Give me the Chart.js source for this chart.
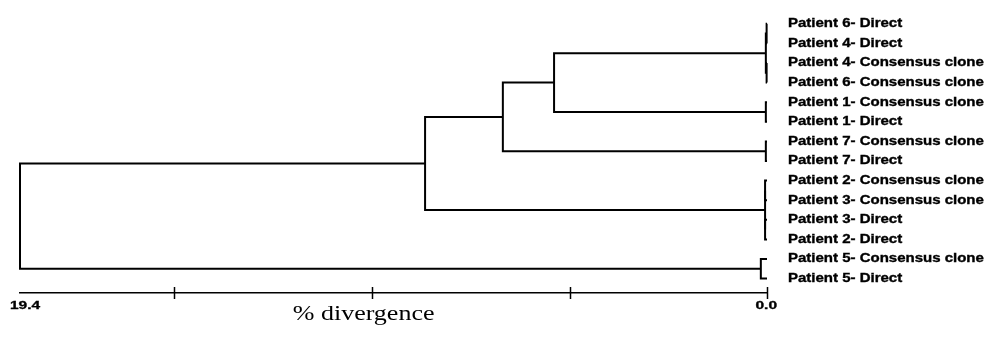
<!DOCTYPE html>
<html>
<head>
<meta charset="utf-8">
<script src="https://cdn.jsdelivr.net/npm/chart.js@4/dist/chart.umd.min.js"></script>
<style>
  html, body { margin: 0; padding: 0; background: #fff; }
  #wrap { width: 994px; height: 342px; position: relative; }
</style>
</head>
<body>
<div id="wrap"><canvas id="tree"></canvas></div>
<script>
// Leaf sequences, top to bottom
const leafNames = [
  'Patient 6- Direct',
  'Patient 4- Direct',
  'Patient 4- Consensus clone',
  'Patient 6- Consensus clone',
  'Patient 1- Consensus clone',
  'Patient 1- Direct',
  'Patient 7- Consensus clone',
  'Patient 7- Direct',
  'Patient 2- Consensus clone',
  'Patient 3- Consensus clone',
  'Patient 3- Direct',
  'Patient 2- Direct',
  'Patient 5- Consensus clone',
  'Patient 5- Direct'
];

// Linkage: merge k creates cluster id 14 + k from two existing ids
const mergeLeft   = [0, 2, 14, 4, 6, 8, 10, 19, 12, 16, 23, 24, 25];
const mergeRight  = [1, 3, 15, 5, 7, 9, 11, 20, 13, 17, 18, 21, 22];
// % divergence at which each merge happens
const mergeHeight = [0.01, 0.01, 0.03, 0.03, 0.03, 0.05, 0.05, 0.05, 0.16, 5.53, 6.86, 8.88, 19.4];

// Scale bar
const scaleMax    = 19.4;
const tickMarks   = [0, 5.12, 10.25, 15.4];
const labelValues = [0, 19.4];
const labelTexts  = ['0.0', '19.4'];
const axisTitle   = '% divergence';

// Build one polyline per merge: left child arm, vertical join, right child arm
const nodeX = [], nodeY = [];
leafNames.forEach((_, i) => { nodeX[i] = 0; nodeY[i] = i; });
const datasets = mergeLeft.map((l, k) => {
  const r = mergeRight[k], h = mergeHeight[k], id = leafNames.length + k;
  nodeX[id] = h;
  nodeY[id] = (nodeY[l] + nodeY[r]) / 2;
  return {
    data: [
      { x: nodeX[l], y: nodeY[l] },
      { x: h, y: nodeY[l] },
      { x: h, y: nodeY[r] },
      { x: nodeX[r], y: nodeY[r] }
    ],
    showLine: true,
    borderColor: '#000',
    borderWidth: 2,
    pointRadius: 0,
    pointHoverRadius: 0,
    tension: 0,
    fill: false,
    clip: false
  };
});

// Text drawn with a horizontal stretch (wide printed lettering)
function wideText(ctx, text, x, y, font, stretch, align, heavy) {
  ctx.save();
  ctx.font = font;
  ctx.fillStyle = '#000';
  ctx.strokeStyle = '#000';
  ctx.textBaseline = 'middle';
  ctx.textAlign = align;
  ctx.translate(x, y);
  ctx.scale(stretch, 1);
  ctx.fillText(text, 0, 0);
  if (heavy) {
    ctx.lineWidth = heavy;
    ctx.strokeText(text, 0, 0);
  }
  ctx.restore();
}

// Scale bar marks, scale bar labels, axis title and leaf names
const treeDecor = {
  id: 'treeDecor',
  afterDraw(chart) {
    const xs = chart.scales.x, ys = chart.scales.y, ctx = chart.ctx;
    const area = chart.chartArea, y0 = xs.top;
    ctx.save();
    ctx.strokeStyle = '#000';
    ctx.lineWidth = 1.5;
    tickMarks.forEach(v => {
      const px = Math.round(xs.getPixelForValue(v)) + 0.5;
      ctx.beginPath();
      ctx.moveTo(px, y0 - 6);
      ctx.lineTo(px, y0 + 6);
      ctx.stroke();
    });
    ctx.restore();

    // end labels sit just inside the bar ends
    labelValues.forEach((v, i) => {
      const px = xs.getPixelForValue(v);
      const atLeft = px < (area.left + area.right) / 2;
      wideText(ctx, labelTexts[i], atLeft ? px - 10 : px + 10, y0 + 13,
        'bold 10px "Liberation Sans", Arial, sans-serif', 1.55,
        atLeft ? 'left' : 'right', 0.3);
    });

    wideText(ctx, axisTitle, area.left + (area.right - area.left) * 0.46, y0 + 22,
      '20px "Liberation Serif", "Times New Roman", serif', 1.3, 'center');

    leafNames.forEach((name, i) => {
      wideText(ctx, name, area.right + 21, ys.getPixelForValue(i),
        'bold 12px "Liberation Sans", Arial, sans-serif', 1.25, 'left', 0.35);
    });
  }
};

new Chart(document.getElementById('tree'), {
  type: 'scatter',
  data: { datasets },
  plugins: [treeDecor],
  options: {
    responsive: true,
    maintainAspectRatio: false,
    animation: false,
    events: [],
    layout: { padding: { left: 20, top: 10, right: 0, bottom: 0 } },
    plugins: { legend: { display: false }, tooltip: { enabled: false } },
    scales: {
      x: {
        type: 'linear',
        reverse: true,
        min: 0,
        max: scaleMax,
        grid: { display: false, drawTicks: false },
        border: { display: true, color: '#000', width: 1.5 },
        ticks: { display: false },
        afterFit: s => { s.height = 49; s.paddingLeft = 0; s.paddingRight = 0; }
      },
      y: {
        type: 'linear',
        position: 'right',
        reverse: true,
        min: -0.704,
        max: 13.735,
        grid: { display: false, drawTicks: false },
        border: { display: false },
        ticks: { display: false },
        afterFit: s => { s.width = 227; s.paddingTop = 0; s.paddingBottom = 0; }
      }
    }
  }
});
</script>
</body>
</html>
